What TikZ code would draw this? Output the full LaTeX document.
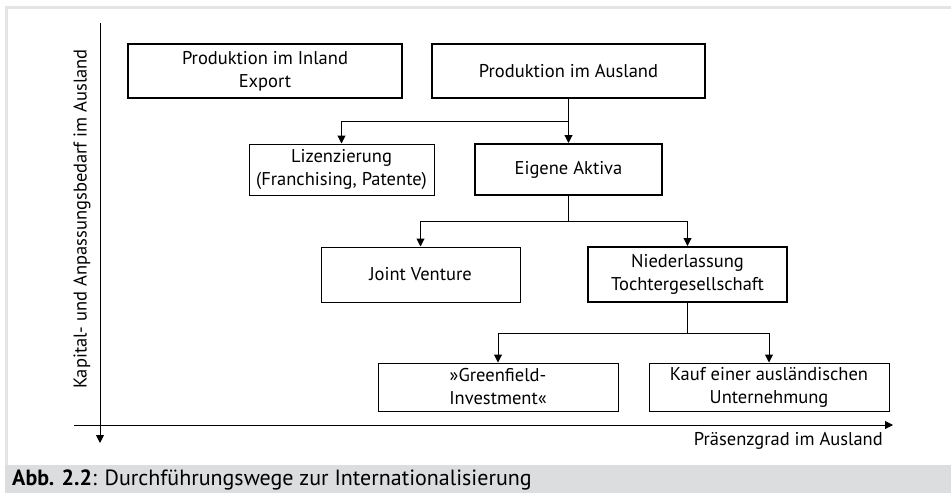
\documentclass[tikz,border=0pt]{standalone}
\usepackage{fontspec}
\setmainfont{PT Sans}
\usetikzlibrary{arrows.meta}
\definecolor{framegray}{HTML}{E4E4E4}
\definecolor{capgray}{HTML}{DCDDDF}
\begin{document}
\begin{tikzpicture}[x=1pt,y=-1pt,
  every node/.style={font=\fontsize{18.5}{23}\selectfont, align=center, inner sep=0pt},
  thickbox/.style={draw, line width=2pt, rectangle},
  thinbox/.style={draw, line width=1pt, rectangle},
  conn/.style={line width=1pt, -{Triangle[length=8pt,width=8pt]}},
  seg/.style={line width=1pt}]
\useasboundingbox (0,0) rectangle (951,493);
% frame
\fill[framegray] (5,6) rectangle (951,9);
\fill[framegray] (5,6) rectangle (8,465);
\fill[capgray] (5,465) rectangle (951,493);
\node[anchor=west, font=\fontsize{22}{26}\selectfont] (cap) at (12,480) {\textbf{Abb. 2.2}: Durchführungswege zur Internationalisierung};
% boxes
\node[thickbox, minimum width=274pt, minimum height=54pt] (inland) at (265,71) {Produktion im Inland\\Export};
\node[thickbox, minimum width=273pt, minimum height=54pt] (ausland) at (568.5,71) {Produktion im Ausland};
\node[thinbox, minimum width=185pt, minimum height=51pt] (lizenz) at (341.5,169.5) {Lizenzierung\\(Franchising, Patente)};
\node[thickbox, minimum width=187pt, minimum height=51pt] (eigen) at (568.5,169.5) {Eigene Aktiva};
\node[thinbox, minimum width=199pt, minimum height=55pt] (joint) at (420.5,274.5) {Joint Venture};
\node[thickbox, minimum width=199pt, minimum height=55pt] (nieder) at (687.5,274.5) {Niederlassung\\Tochtergesellschaft};
\node[thinbox, minimum width=240pt, minimum height=48pt] (green) at (498,387) {»Greenfield-\\Investment«};
\node[thinbox, minimum width=240pt, minimum height=48pt] (kauf) at (769,387) {Kauf einer ausländischen\\Unternehmung};
% connectors
\coordinate (j1) at (568.5,121);
\draw[seg] (ausland.south) -- (j1);
\draw[conn] (j1) -- (eigen.north);
\draw[conn] (j1) -| (lizenz.north);
\coordinate (j2) at (568.5,221);
\draw[seg] (eigen.south) -- (j2);
\draw[conn] (j2) -| (joint.north);
\draw[conn] (j2) -| (nieder.north);
\coordinate (j3) at (687.5,333);
\draw[seg] (nieder.south) -- (j3);
\draw[conn] (j3) -| (green.north);
\draw[conn] (j3) -| (kauf.north);
% axes
\coordinate (vtop) at (100,23);
\coordinate (vbot) at (100,443);
\coordinate (hl) at (74,425);
\coordinate (hr) at (893,425);
\draw[conn] (vtop) -- (vbot);
\draw[conn] (hl) -- (hr);
\node[rotate=90] (ylab) at (82,219) {Kapital- und Anpassungsbedarf im Ausland};
\node[anchor=east] (xlab) at (883,441) {Präsenzgrad im Ausland};
\end{tikzpicture}
\end{document}
